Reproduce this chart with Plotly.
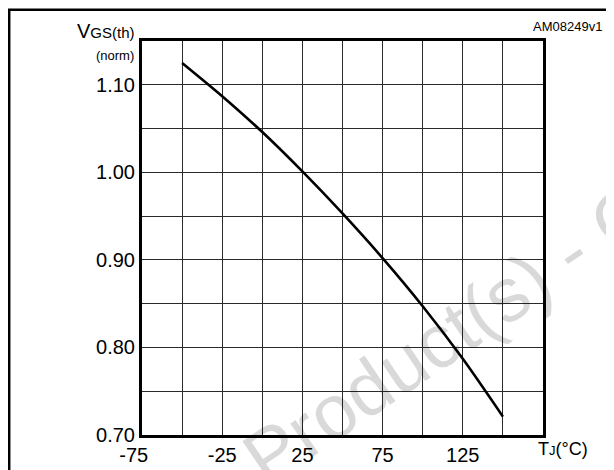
import plotly.graph_objects as go

# Data
temp_c = [-50, -25, 0, 25, 50, 75, 100, 125, 150]
vgs_norm = [1.125, 1.087, 1.046, 1.001, 0.953, 0.902, 0.847, 0.787, 0.721]

x_tickvals = [-75, -50, -25, 0, 25, 50, 75, 100, 125, 150, 175]
x_ticktext = ["-75\u00a0\u00a0\u00a0", "", "-25", "", "25", "", "75", "", "125", "", ""]
y_tickvals = [0.70, 0.75, 0.80, 0.85, 0.90, 0.95, 1.00, 1.05, 1.10, 1.15]
y_ticktext = ["0.70", "", "0.80", "", "0.90", "", "1.00", "", "1.10", ""]

W, H = 614, 470
OFF = 8  # page body margin offset
# plot area in page pixels: x 142..543, y 41..441
L = 142 - OFF
T = 41 - OFF
R = W - (543 - OFF)
B = H - (441 - OFF)
PW, PH = W - L - R, H - T - B


def px(x):
    return (x - OFF - L) / PW


def py(y):
    return (H - B - (y - OFF)) / PH


FONT = "Liberation Sans, Arial, sans-serif"

fig = go.Figure()
fig.add_trace(go.Scatter(
    x=temp_c, y=vgs_norm, mode="lines",
    line=dict(color="black", width=2.6, shape="spline", smoothing=0.8),
    showlegend=False, hoverinfo="skip",
))

grid = "#2a2a2a"
fig.update_xaxes(
    range=[-75, 175], tickvals=x_tickvals, ticktext=x_ticktext,
    showgrid=True, gridcolor=grid, gridwidth=1, zeroline=False,
    showline=True, linecolor="black", linewidth=3, mirror=True,
    ticks="", tickfont=dict(family=FONT, size=20, color="black"),
)
fig.update_yaxes(
    range=[0.70, 1.15], tickvals=y_tickvals, ticktext=y_ticktext,
    showgrid=True, gridcolor=grid, gridwidth=1, zeroline=False,
    showline=True, linecolor="black", linewidth=3, mirror=True,
    ticks="", tickfont=dict(family=FONT, size=20, color="black"),
)

annotations = [
    # watermark (translucent so grid shows through)
    dict(x=px(570), y=py(255), xref="paper", yref="paper",
         text="Obsolete Product(s) - Obsolete Product(s)", showarrow=False,
         textangle=-34, xanchor="center", yanchor="middle",
         font=dict(family=FONT, size=76, color="rgba(0,0,0,0.15)")),
    dict(x=px(137), y=py(44), xref="paper", yref="paper",
         text="V<span style='font-size:15px'>GS(th)</span>", showarrow=False,
         xanchor="right", yanchor="bottom",
         font=dict(family=FONT, size=20, color="black")),
    dict(x=px(136), y=py(56), xref="paper", yref="paper",
         text="(norm)", showarrow=False, xanchor="right", yanchor="middle",
         font=dict(family=FONT, size=13, color="black")),
    dict(x=px(604), y=py(26), xref="paper", yref="paper",
         text="AM08249v1", showarrow=False, xanchor="right", yanchor="middle",
         font=dict(family=FONT, size=13, color="black")),
    dict(x=px(563), y=py(455), xref="paper", yref="paper",
         text="T<span style='font-size:13px'>J</span>(°C)", showarrow=False,
         xanchor="center", yanchor="middle",
         font=dict(family=FONT, size=18, color="black")),
]

shapes = [
    dict(type="rect", xref="paper", yref="paper",
         x0=px(OFF + 1.2), x1=px(720), y0=py(560), y1=py(OFF + 1.2),
         line=dict(color="black", width=2.5), fillcolor="rgba(0,0,0,0)",
         layer="above"),
]

fig.update_layout(
    width=W, height=H,
    margin=dict(l=L, r=R, t=T, b=B, pad=0),
    paper_bgcolor="white", plot_bgcolor="white",
    annotations=annotations, shapes=shapes,
    font=dict(family=FONT, color="black"),
)

fig.write_html("out.html")
